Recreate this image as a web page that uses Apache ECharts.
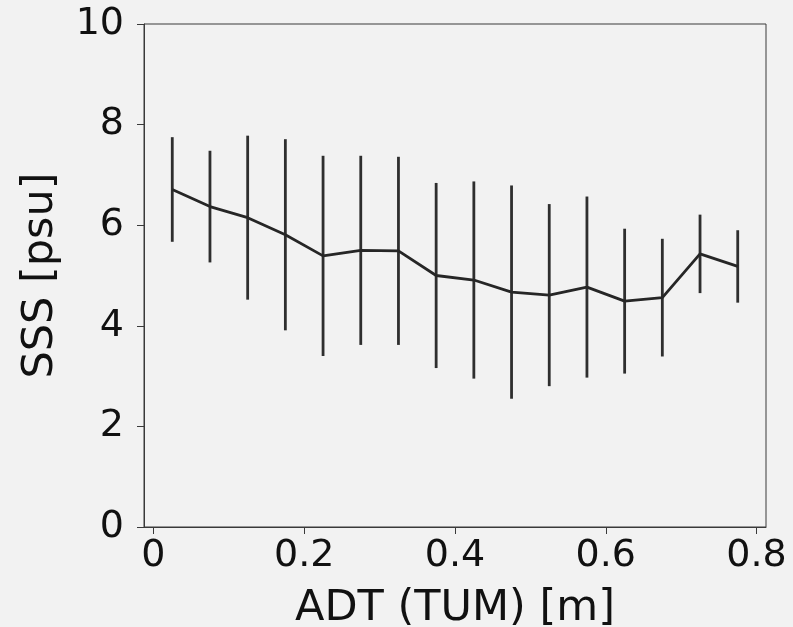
<!DOCTYPE html>
<html>
<head>
<meta charset="utf-8">
<style>
  html, body { margin: 0; padding: 0; background: #f2f2f2; }
  #chart { width: 793px; height: 627px; }
</style>
<script src="https://cdn.jsdelivr.net/npm/echarts@6/dist/echarts.min.js"></script>
</head>
<body>
<div id="chart"></div>
<script>
// bin centres of ADT (m)
var adt = [0.025, 0.075, 0.125, 0.175, 0.225, 0.275, 0.325, 0.375,
           0.425, 0.475, 0.525, 0.575, 0.625, 0.675, 0.725, 0.775];
// mean SSS per bin (psu)
var sssMean = [6.71, 6.37, 6.15, 5.81, 5.39, 5.50, 5.49, 5.00,
               4.91, 4.67, 4.61, 4.77, 4.49, 4.56, 5.43, 5.18];
// error bar half-length (std)
var sssStd = [1.04, 1.11, 1.63, 1.90, 1.99, 1.88, 1.87, 1.84,
              1.96, 2.12, 1.81, 1.80, 1.44, 1.17, 0.78, 0.72];
var xTicks = [0, 0.2, 0.4, 0.6, 0.8];
var yTicks = [0, 2, 4, 6, 8, 10];

var FONT = 'DejaVu Sans';
var myChart = echarts.init(document.getElementById('chart'));

var lineData = adt.map(function (x, i) { return [x, sssMean[i]]; });
var barData = adt.map(function (x, i) {
    return [x, sssMean[i] - sssStd[i], sssMean[i] + sssStd[i]];
});

var option = {
    backgroundColor: '#f2f2f2',
    animation: false,
    grid: {
        left: 144, right: 27, top: 24, bottom: 100,
        outerBoundsMode: 'none',
        containLabel: false,
        show: true, borderColor: '#3a3a3a', borderWidth: 1,
        backgroundColor: 'transparent'
    },
    xAxis: {
        type: 'value',
        min: -0.0125,
        max: 0.8125,
        name: 'ADT (TUM) [m]',
        nameLocation: 'middle',
        nameGap: 60,
        nameTextStyle: { fontFamily: FONT, fontSize: 43, color: '#111' },
        axisLine: { show: true, onZero: false, lineStyle: { color: '#3a3a3a', width: 1 } },
        axisTick: { show: true, length: 7, customValues: xTicks, lineStyle: { color: '#3a3a3a' } },
        axisLabel: {
            customValues: xTicks, margin: 10,
            fontFamily: FONT, fontSize: 38, color: '#111',
            formatter: function (v) { return String(+v.toFixed(1)); }
        },
        splitLine: { show: false }
    },
    yAxis: {
        type: 'value',
        min: 0,
        max: 10,
        interval: 2,
        name: 'SSS [psu]',
        nameLocation: 'middle',
        nameGap: 82,
        nameTextStyle: { fontFamily: FONT, fontSize: 43, color: '#111' },
        axisLine: { show: true, onZero: false, lineStyle: { color: '#3a3a3a', width: 1 } },
        axisTick: { show: true, length: 7, lineStyle: { color: '#3a3a3a' } },
        axisLabel: { margin: 20, fontFamily: FONT, fontSize: 38, color: '#111' },
        splitLine: { show: false }
    },
    series: [
        {
            type: 'custom',
            data: barData,
            encode: { x: 0, y: [1, 2] },
            renderItem: function (params, api) {
                var lo = api.coord([api.value(0), api.value(1)]);
                var hi = api.coord([api.value(0), api.value(2)]);
                return {
                    type: 'line',
                    shape: { x1: lo[0], y1: lo[1], x2: hi[0], y2: hi[1] },
                    style: { stroke: '#2e2e2e', lineWidth: 2.8 }
                };
            },
            z: 2
        },
        {
            type: 'line',
            data: lineData,
            symbol: 'none',
            lineStyle: { color: '#262626', width: 2.8 },
            z: 3
        }
    ]
};

myChart.setOption(option);
</script>
</body>
</html>
